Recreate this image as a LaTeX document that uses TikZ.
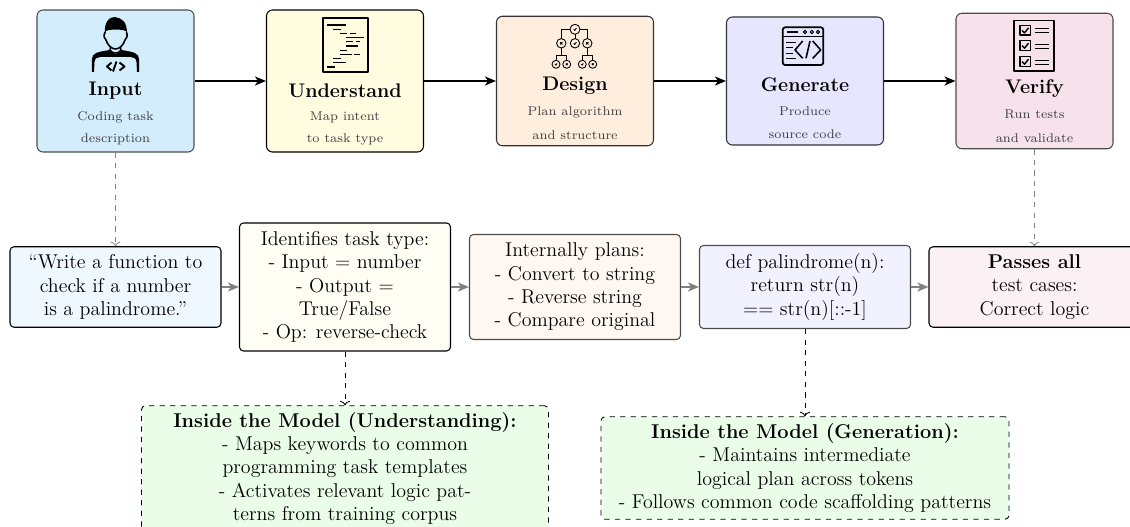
\documentclass[tikz,border=0pt]{standalone}
\usetikzlibrary{calc,arrows.meta}

\definecolor{inputfill}{HTML}{D4EDFC}
\definecolor{understandfill}{HTML}{FFFCE0}
\definecolor{designfill}{HTML}{FFEEDD}
\definecolor{generatefill}{HTML}{E6E6FF}
\definecolor{verifyfill}{HTML}{F7E1EA}
\definecolor{inputpale}{HTML}{F0F8FF}
\definecolor{understandpale}{HTML}{FFFEF5}
\definecolor{designpale}{HTML}{FFF8F2}
\definecolor{generatepale}{HTML}{F2F2FF}
\definecolor{verifypale}{HTML}{FBF0F4}
\definecolor{modelfill}{HTML}{E9FDE9}

\newcommand{\tickmark}[3]{\draw[line width=0.5pt] ($(#1,#2)+(-0.5*#3,0.05*#3)$) -- ($(#1,#2)+(-0.1*#3,0.4*#3)$) -- ($(#1,#2)+(0.5*#3,-0.4*#3)$);}
\newcommand{\crossmark}[3]{\draw[line width=0.5pt] ($(#1,#2)+(-0.45*#3,-0.45*#3)$) -- ($(#1,#2)+(0.45*#3,0.45*#3)$) ($(#1,#2)+(-0.45*#3,0.45*#3)$) -- ($(#1,#2)+(0.45*#3,-0.45*#3)$);}

\tikzset{
    iconunit/.style={x=0.02cm,y=-0.02cm,line join=round},
    stagebox/.style={draw=#1,line width=0.6pt,rounded corners=0.12cm,minimum width=3.14cm},
    stagebox/.default=black,
    stagetitle/.style={font=\fontsize{11.2}{13}\selectfont\bfseries,inner sep=0pt},
    stagenote/.style={font=\fontsize{7.2}{9}\selectfont,text=black!75,inner sep=0pt},
    detailbox/.style={draw=#1,line width=0.6pt,rounded corners=0.08cm,minimum width=4.22cm,align=center,
        font=\fontsize{11.35}{13.3}\selectfont,inner sep=0pt},
    detailbox/.default=black,
    modelbox/.style={draw,dashed,fill=modelfill,rounded corners=0.08cm,align=center,
        font=\fontsize{11.35}{13.3}\selectfont,inner sep=0pt,line width=0.5pt},
    stagearrow/.style={-{Stealth[length=2.2mm,width=1.8mm,inset=0.6mm]},line width=1pt},
    detailarrow/.style={-{Stealth[length=2.2mm,width=1.8mm,inset=0.6mm]},line width=1pt,black!50},
    notearrow/.style={-{Computer Modern Rightarrow[length=0.9mm,width=2mm]},dashed,black!50,line width=0.4pt},
    modelarrow/.style={-{Computer Modern Rightarrow[length=0.9mm,width=2mm]},dashed,line width=0.5pt},
    pics/personicon/.style={code={
        \begin{scope}[iconunit]
            \fill (-10.5,-9) .. controls (-12,-22) and (-6,-27) .. (-1,-27) .. controls (6,-26) and (12,-23) .. (11.5,-9)
                -- (10.5,-13) .. controls (5,-15) and (-5,-15) .. (-9.5,-13) -- cycle;
            \draw[line width=0.9pt] (-10.5,-12) .. controls (-12.5,-8) and (-11,-5) .. (-9.5,-4)
                .. controls (-8,1) and (-4,5) .. (0,5) .. controls (4,5) and (8,1) .. (9.5,-4)
                .. controls (11,-5) and (12.5,-8) .. (11,-12);
            \draw[line width=0.8pt] (-5,3) -- (-5.5,6) .. controls (-3,10) and (3,10) .. (5.5,6) -- (5,3);
            \fill (-23.5,28) -- (-23.5,15) .. controls (-23.5,9) and (-18,8) .. (-6,6)
                .. controls (-3,11) and (3,11) .. (6,6) .. controls (18,8) and (23.5,9) .. (23.5,15)
                -- (23.5,28) -- (21.5,28) -- (21,18) .. controls (20.5,14) and (18,13) .. (15,13) -- (-15,13)
                .. controls (-18,13) and (-20.5,14) .. (-21,18) -- (-21.5,28) -- cycle;
            \draw[line width=1.1pt] (-4,18.5) -- (-8.5,22.5) -- (-4,26.5) (-2.5,27.5) -- (1,17.5) (4,18.5) -- (9,22.5) -- (4,26.5);
        \end{scope}
    }},
    pics/scripticon/.style={code={
        \begin{scope}[iconunit]
            \draw[line width=1.1pt] (-22.2,-26.7) rectangle (22.2,26.7);
            \foreach \xa/\xb/\yy in {-18.2/0.2/-20,-12.2/-4.2/-15.7,-5.5/1.8/-11.3,4.5/10.2/-11.3,0.5/18.5/-7.3,
                0.5/7.8/-3.3,10.5/14.5/-3.3,0.5/12.2/1,-5.5/1.8/5.3,-5.5/6.2/9.3,8.8/14.5/9.3,
                -12.2/-4.2/13.7,-12.2/0.2/17.7,-18.2/-10.5/22}
                \draw[line width=0.8pt] (\xa,\yy) -- (\xb,\yy);
        \end{scope}
    }},
    pics/treeicon/.style={code={
        \begin{scope}[iconunit]
            \draw[line width=0.5pt] (-13.7,-7.4) -- (-13.7,-16.7) -- (12.3,-16.7) -- (12.3,-7.4) (0,-12) -- (0,-7.4)
                (-13.7,2) -- (-13.7,9.7) (-19,14.3) -- (-19,9.7) -- (-8.3,9.7) -- (-8.3,14.3)
                (12.3,2) -- (12.3,9.7) (7.3,14.3) -- (7.3,9.7) -- (17.7,9.7) -- (17.7,14.3);
            \foreach \px/\py/\pr in {0/-16.7/5,-13.7/-2.7/4.7,0/-2.7/4.7,12.3/-2.7/4.7,-19/18.3/4,-8.3/18.3/4,7.3/18.3/4,17.7/18.3/4}
                \draw[fill=designfill,line width=0.5pt] (\px,\py) circle (\pr);
            \foreach \px/\py/\pr in {0/-16.7/2.8,0/-2.7/2.8,-19/18.3/2.1,7.3/18.3/2.1}{
                \tickmark{\px}{\py}{\pr}
            }
            \foreach \px/\py/\pr in {-13.7/-2.7/2.6,12.3/-2.7/2.6,-8.3/18.3/1.9,17.7/18.3/1.9}{
                \crossmark{\px}{\py}{\pr}
            }
        \end{scope}
    }},
    pics/codeicon/.style={code={
        \begin{scope}[iconunit]
            \draw[line width=1pt,rounded corners=0.05cm] (-20.3,-18.7) rectangle (20.3,19);
            \draw[line width=0.8pt] (-20.3,-9.3) -- (20.3,-9.3) (-16.3,-14) -- (-4.7,-14);
            \foreach \px in {2,8.7,15}
                \draw[line width=0.6pt] (\px,-14) circle (1.7);
            \foreach \ya/\xb in {-3.3/-7,1.7/-10,7.3/-10,12.7/-7}
                \draw[line width=0.8pt] (-17,\ya) -- (\xb,\ya);
            \draw[line width=0.9pt] (-0.3,-5) -- (-8,4) -- (-0.3,12.3) (3,12.3) -- (7,-5) (9.7,-5) -- (17.7,4) -- (9.7,12.3);
        \end{scope}
    }},
    pics/checklisticon/.style={code={
        \begin{scope}[iconunit]
            \draw[line width=0.8pt] (-20,-25.3) rectangle (19.8,25);
            \foreach \ya/\yb/\yc/\yd/\ye in {-20.3/-11/-15.6/-17.7/-13.3,-5.3/4.7/-0.3/-1.7/2.7,10.7/20.7/15.7/14.3/18.7}{
                \draw[line width=0.8pt] (-14.2,\ya) rectangle (-3.5,\yb);
                \draw[line width=0.8pt] (-12,\yc) -- (-9.5,{\yc+2.5}) -- (-5.5,{\yc-2.5});
                \draw[line width=0.5pt] (0.8,\yd) -- (14.8,\yd) (0.8,\ye) -- (14.8,\ye);
            }
        \end{scope}
    }},
}

\begin{document}
\begin{tikzpicture}
    \useasboundingbox (0,0) rectangle (22.6,10.54);

    % stages along the top
    \node[stagebox=black!70,fill=inputfill,minimum height=2.84cm] (input) at (2.31,8.92) {};
    \node[stagebox,fill=understandfill,minimum height=2.84cm] (understand) at (6.9,8.92) {};
    \node[stagebox=black!80,fill=designfill,minimum height=2.59cm] (design) at (11.5,8.92) {};
    \node[stagebox=black!80,fill=generatefill,minimum height=2.56cm] (generate) at (16.1,8.92) {};
    \node[stagebox=black!70,fill=verifyfill,minimum height=2.71cm] (verify) at (20.69,8.92) {};

    \pic at (2.31,9.66) {personicon};
    \pic at (6.91,9.64) {scripticon};
    \pic at (11.5,9.62) {treeicon};
    \pic at (16.06,9.62) {codeicon};
    \pic at (20.68,9.62) {checklisticon};

    \node[stagetitle] (inputtitle) at (2.31,8.72) {Input};
    \node[stagenote] (inputnotea) at (2.31,8.2) {Coding task};
    \node[stagenote] (inputnoteb) at (2.31,7.75) {description};
    \node[stagetitle] (understandtitle) at (6.9,8.72) {Understand};
    \node[stagenote] (understandnotea) at (6.9,8.2) {Map intent};
    \node[stagenote] (understandnoteb) at (6.9,7.75) {to task type};
    \node[stagetitle] (designtitle) at (11.5,8.82) {Design};
    \node[stagenote] (designnotea) at (11.5,8.3) {Plan algorithm};
    \node[stagenote] (designnoteb) at (11.5,7.84) {and structure};
    \node[stagetitle] (generatetitle) at (16.1,8.85) {Generate};
    \node[stagenote] (generatenotea) at (16.1,8.32) {Produce};
    \node[stagenote] (generatenoteb) at (16.1,7.86) {source code};
    \node[stagetitle] (verifytitle) at (20.69,8.76) {Verify};
    \node[stagenote] (verifynotea) at (20.69,8.26) {Run tests};
    \node[stagenote] (verifynoteb) at (20.69,7.78) {and validate};

    \draw[stagearrow] (input) -- (understand);
    \draw[stagearrow] (understand) -- (design);
    \draw[stagearrow] (design) -- (generate);
    \draw[stagearrow] (generate) -- (verify);

    % worked example
    \node[detailbox,fill=inputpale,minimum height=1.61cm] (prompt) at (2.31,4.8)
        {``Write a function to\\check if a number\\is a palindrome.''};
    \node[detailbox,fill=understandpale,minimum height=2.56cm] (tasktype) at (6.9,4.8)
        {Identifies task type:\\- Input = number\\- Output =\\True/False\\- Op: reverse-check};
    \node[detailbox=black!70,fill=designpale,minimum height=2.1cm] (plan) at (11.5,4.8)
        {Internally plans:\\- Convert to string\\- Reverse string\\- Compare original};
    \node[detailbox=black!70,fill=generatepale,minimum height=1.66cm] (code) at (16.1,4.8)
        {def palindrome(n):\\return str(n)\\== str(n)[::-1]};
    \node[detailbox,fill=verifypale,minimum height=1.61cm] (result) at (20.69,4.8)
        {\textbf{Passes all}\\test cases:\\Correct logic};

    \draw[detailarrow] (prompt) -- (tasktype);
    \draw[detailarrow] (tasktype) -- (plan);
    \draw[detailarrow] (plan) -- (code);
    \draw[detailarrow] (code) -- (result);

    \draw[notearrow] (input) -- (prompt);
    \draw[notearrow] (verify) -- (result);

    % what happens inside
    \node[modelbox,minimum width=8.14cm,minimum height=2.51cm] (modelunderstand) at (6.9,1.17)
        {\textbf{Inside the Model (Understanding):}\\- Maps keywords to common\\programming task templates\\- Activates relevant logic pat-\\terns from training corpus};
    \node[modelbox,minimum width=8.16cm,minimum height=2.05cm] (modelgenerate) at (16.1,1.18)
        {\textbf{Inside the Model (Generation):}\\- Maintains intermediate\\logical plan across tokens\\- Follows common code scaffolding patterns};

    \draw[modelarrow] (tasktype) -- (modelunderstand);
    \draw[modelarrow] (code) -- (modelgenerate);
\end{tikzpicture}
\end{document}
